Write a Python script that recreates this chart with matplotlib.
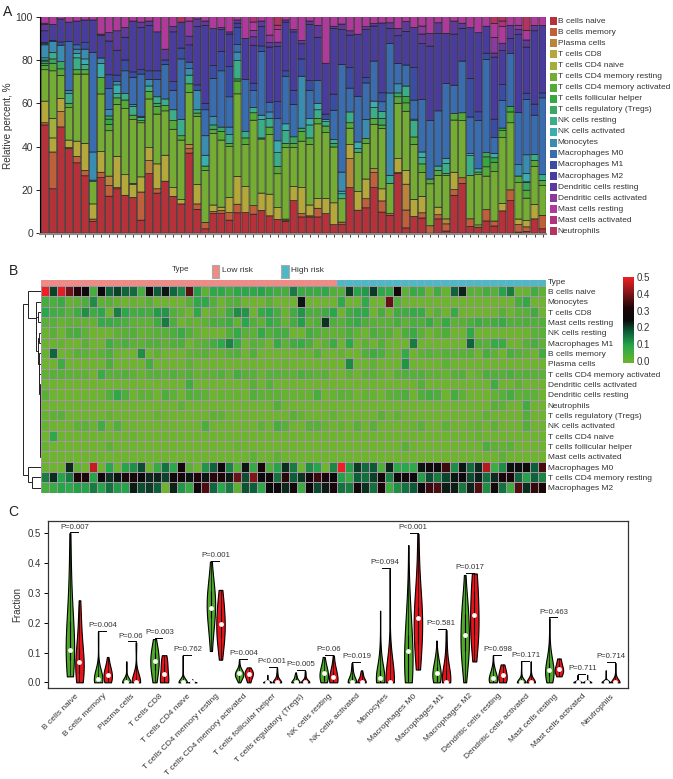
import numpy as np
import matplotlib
matplotlib.use('Agg')
import matplotlib.pyplot as plt
from matplotlib.colors import LinearSegmentedColormap, ListedColormap
from matplotlib.patches import Rectangle

plt.rcParams['font.family'] = ['Liberation Sans', 'DejaVu Sans']
plt.rcParams['text.color'] = '#333333'
plt.rcParams['axes.labelcolor'] = '#333333'
plt.rcParams['xtick.labelcolor'] = '#333333'
plt.rcParams['ytick.labelcolor'] = '#333333'

W, H = 673, 779

cell_names = ['B cells naive', 'B cells memory', 'Plasma cells', 'T cells CD8', 'T cells CD4 naive',
              'T cells CD4 memory resting', 'T cells CD4 memory activated', 'T cells follicular helper',
              'T cells regulatory (Tregs)', 'NK cells resting', 'NK cells activated', 'Monocytes',
              'Macrophages M0', 'Macrophages M1', 'Macrophages M2', 'Dendritic cells resting',
              'Dendritic cells activated', 'Mast cells resting', 'Mast cells activated', 'Neutrophils']

cell_colors = ['#b5323a', '#c0603a', '#b9853a', '#b5a83a', '#a0b03a', '#74ac34', '#55aa38', '#35a83f',
               '#3aa860', '#3aae88', '#3aaeae', '#3a8cb0', '#3a6cb0', '#3a4ca4', '#4a3c9c', '#5f3a9c',
               '#8a3a9c', '#b03a9c', '#b0337f', '#b53360']

# percent per sample, first 37 samples are low risk, last 26 high risk
b_naive = [50, 20.5, 48.5, 39, 32.5, 26.5, 5.5, 25.5, 17.5, 20.5,
           17.5, 16.5, 6, 27.5, 18.5, 24, 17, 13.5, 37, 11,
           2, 9, 9, 6, 9.5, 9.5, 9, 10.5, 8, 6.5,
           5.5, 15, 7.5, 7.5, 7.5, 9, 3.9, 3.9, 21, 10.5,
           11.7, 21, 9.4, 8.2, 27.5, 2.5, 7.7, 7, 0, 6.6,
           1, 17.4, 23, 3, 2.8, 5.9, 3.2, 10.5, 15, .5,
           .8, 6.6, 2]
b_memory = [1, 17, 0, .5, 3, 2.5, 1, 2.5, 5, .5,
            0, 0, 13, 0, 2, 0, 0, 0, 2, 2.5,
            3, 1, 1.5, 3.5, 4, 0, 4, 0, 0, 0,
            0, 0, 1.5, .5, 4, 0, 0, 1.2, 0, 0,
            4.2, 7, 5, .8, .5, 8.5, 0, 2.4, 3.4, 1.9,
            3.3, 2.6, 2.6, 3.5, 0, 5.4, 2.2, 0, 5, 3.5,
            2.2, 0, 6.2]
plasma = [0, 0, 7, 0, 0, 0, 0, 0, 4.5, 0,
          0, 0, 0, 6, 0, 0, 0, 0, 2, 0,
          0, 0, 0, 0, 0, 0, 0, 0, 0, 0,
          .5, 0, 0, 0, 0, 0, 0, 0, 13.4, 0,
          0, 1.8, 0, 0, 0, 12.3, 0, 0, 0, 0,
          2.3, 0, 0, 0, 0, 0, 0, 0, 0, 0,
          0, 0, 0]
cd8 = [10, 6.5, 6, 3.5, 7, 12.5, 7, 9.5, 0, 14.5,
       9.5, 6, 7, 6, 11.5, 12, 4, 2, 0, 9,
       0, 3, 1.5, 7, 13, 12, 0, 8, 10, 5.5,
       .5, 6.5, 12, 5, 4.5, 7, 10.1, 0, 6.5, 8.5,
       9.1, 0, 5.4, 0, 6.4, 6.5, 7.9, 7.6, 0, 3.5,
       0, 8, 0, 0, 0, 0, 0, 3.5, 0, 2.6,
       3, 6.7, 0]
cd4_naive = [0, 9, 0, 0, 0, 0, 0, 0, 0, 0,
             0, .5, 0, 0, 0, 0, 0, 0, 0, 0,
             0, 0, 0, 0, 0, 0, 0, 0, 0, 0,
             0, 0, 0, 0, 0, 0, 0, 0, 0, 0,
             0, 0, 0, 0, 0, 0, 0, 0, 0, 0,
             0, 0, 0, 0, 1, 0, 0, 0, 0, 0,
             0, 0, 0]
cd4_resting = [14.5, 22, 10.5, 15, 31, 32, 10.5, 26.5, 21.5, 24,
               30.5, 29.5, 25, 22.5, 23, 20.5, 27, 27.5, 24, 31.5,
               24, 33, 31, 23.5, 38.5, 19.5, 40.5, 25, 27.5, 16,
               33, 18, 21.5, 28, 34.5, 30.5, 25.8, 10.8, 7.6, 18,
               16.4, 20.5, 27, 14, 25.6, 28.2, 25.4, 11, 19.4, 14.7,
               20.1, 24, 26.4, 19.7, 23.2, 16.2, 22.1, 31, 31, 17,
               10.7, 17.6, 13.8]
cd4_activated = [2, 3.5, 3, 2, 2, 2, 0, 7.5, 3, 3,
                 4, 2, 1, 3.5, 3.5, 2.5, 4, 2, 4, 1.5,
                 2, 2, 4, 1.5, 6, 3, 3.5, .5, 3.5, 3.5,
                 2, 2, 4.5, 3, 2.5, 3, 0, 0, 2.5, 0,
                 2.3, 2.7, 1.5, 0, 3, 4, 3.4, 4, 2.2, 2.3,
                 1, 3, 3.6, 0, 1.2, 4.5, 4.1, 3.3, 5, 3.1,
                 3.8, 2.7, 2.4]
follicular = [1, 0, 0, 0, 0, 0, 0, 0, 2.5, 0,
              0, 0, 0, 0, 0, 0, 0, 0, 0, 0,
              0, 0, 0, 0, 1, 0, 0, 0, 0, 0,
              0, 0, 0, 0, 0, 0, 0, 0, 0, 0,
              0, 0, 0, 0, 0, 3, 0, 0, 0, 0,
              0, 0, 0, 0, 0, 4.8, 2, 1.2, 2.6, 0,
              0, 0, 0]
tregs = [1, 2, 3.3, 0, 0, 0, 0, 0, 1.5, 0,
         0, 0, 0, 0, 1.5, 0, 0, 0, 0, 0,
         0, 2, 2, 0, 0, 0, 0, 0, 0, 0,
         0, 3, 1.5, 0, 0, 0, 1.7, 0, 0, 0,
         0, 0, 3, 0, 1.8, 0, 0, 0, 0, 0,
         0, 0, 0, 0, 0, 2, 0, 0, 0, 0,
         3.8, 0, 0]
nk_resting = [.5, 3, 0, 4.5, 5.5, 2.5, 0, 0, 0, 2,
              3, 4, 1.5, 2.5, 3, 3, 5, 7.5, 4, 1.5,
              0, 0, 0, 4, 8.5, 3, 2.5, 8.5, 4, 6.5,
              6, 0, 0, 6, 4, 2, 1.7, 2.3, 5, 1.7,
              0, 5, 3.1, 3.7, 0, 5, 7.5, 2.9, 0, 2,
              4.6, 0, 0, 9, 0, 0, 0, 0, 0, 0,
              .2, 2.8, 2.6]
nk_activated = [1, 0, 0, 0, 2, 2.5, .5, 6.5, 0, 4,
                0, 0, 0, 0, 0, 0, 0, 0, 0, 0,
                5, 0, 0, 0, 0, 0, 0, 2, 0, 5.5,
                3, 0, 0, 3, 3, 1, 0, 1.2, 0, 3,
                0, 3, 0, 0, 0, 0, .7, 2.6, 0, 0,
                2.4, 0, 0, .9, 1.5, 0, 2, 0, 0, 0,
                4, 0, 0]
monocytes = [6, 5, 7.5, 1.5, 2, 4.5, 13, 2.5, 3, 1.5,
             0, 1, .5, 3, 0, 0, 0, 0, 3, 9,
             9, 4, 0, 3.5, 4, 0, 0, 0, 3, 0,
             0, 0, 24, 0, 0, 0, 0, 8.8, 0, 0,
             8.8, 0, 0, 38, 4.2, 0, 0, 0, 0, 0,
             0, 0, 0, 0, 0, 0, 0, 0, 0, 5.3,
             8.9, 0, 0]
m0 = [.5, 0, 0, 22.5, 2, 0, 46, 0, 10, 0,
      10.5, 12.5, 19.5, 0, 8, 16, 9, 28, 3, 0,
      12, 17.5, 26, 14, 3.5, 24, 8, 29.5, 4.5, 10.5,
      22, 15, 0, 13, 10.5, 0, 13.6, 49.8, 11, 20.9,
      16.9, 18.5, 4.3, 22.8, 9.4, 10, 8.8, 24.2, 27, 25.5,
      34.6, 13, 23.9, 16.6, 22.3, 45, 7, 13, 24.4, 24.5,
      26.4, 18.1, 35.5]
m1 = [.5, .5, 1.5, 0, 0, 3, 0, 0, 6.5, 3,
      5, 2.5, 2, 4, 4, 2, 4, 5, 0, 2.5,
      3, 6, 9, 14, 8, 0, 3.5, 2.5, 0, 8,
      2.5, 6.5, 8, 4.5, 0, 2.5, 7.4, 0, 9.5, 0,
      2.6, 0, 4, 0, 0, 0, 15, 0, 0, 0,
      0, 0, 0, 17.5, 4, 3, 8.2, 7.5, 0, 0,
      3, 5.1, 2.3]
m2 = [5.5, 7.5, 10.5, 9, 11, 10.5, 15, 10.5, 16, 11.5,
      10.5, 23.5, 19.5, 21, 18, 0, 23, 12, 8, 27,
      36, 17, 10, 15, 2, 19, 18, 9, 25.5, 26,
      22.5, 27, 7, 26, 20, 23.5, 30.4, 16, 15, 28.4,
      22, 16.2, 31.2, 7, 12.8, 16, 18.5, 25.9, 34.4, 35.8,
      23.3, 23.5, 15.1, 23, 36.5, 13, 27.7, 16, 7, 36.5,
      22, 33.9, 31.2]
dc_resting = [3, 0, 0, 0, 0, 0, 0, .5, 4, 9,
              4.5, 0, 2.5, 2, 0, 5, 2.5, 0, 4, 3.5,
              2, 0, 1, 1, 1.5, 0, 4, 2.5, 2, 2,
              1, 1, 1.5, 1.5, 5.5, 0, 1, 2.6, 2, 0,
              1.4, 1.2, 0, 2.6, 3.4, 4.7, 0, 4.4, 5.9, 4.9,
              0, 6, 2.4, 0, 0, 0, 1.8, 3.5, 6, 2.2,
              3.4, 2.5, 0]
dc_activated = [.5, 0, 0, 0, 0, 0, 0, 0, 0, 0,
                0, 0, 0, 0, 0, 0, 0, 0, 7, 0,
                0, 0, 0, 0, 0, 0, 3, 0, 3.5, 0,
                0, 0, 0, 0, 0, 0, 0, 0, 0, 0,
                0, 0, 0, 0, 0, 0, 0, 3.7, 0, 0,
                0, 0, 0, 0, 0, 0, 7, 0, 0, 2,
                0, 0, 0]
mast_resting = [3, 3.5, 1, 2.5, 2, 1.5, 1.5, 8, 7.5, 6.5,
                5, 2, 2.5, 2, 7, 15, 4.5, 0, 2, 1,
                2, 5.5, 5, 7, 1.5, 10, 4, 2, 8.5, 6,
                1.5, 6, 11, 2, 4, 21.5, 4.4, 3.4, 6.5, 8,
                4.6, 3.1, 2.8, 2.8, 5.4, 2.3, 5, 4.3, 7.7, 2.8,
                7.7, 2, 3, 5, 7.4, 4.6, 6.2, 8, 4, 4,
                4.6, 4, 4]
mast_activated = [0, 0, 0, 0, 0, 0, 0, 0, 0, 0,
                  0, 0, 0, 0, 0, 0, 0, 0, 0, 0,
                  0, 0, 0, 0, 0, 0, 2.5, 0, 0, 2,
                  0, 0, 0, 0, 0, 0, 0, 0, 0, 0,
                  0, 0, 0, 0, 0, 0, 0, 0, 0, 0,
                  0, 0, 0, 0, 0, 0, 0, 2.5, 0, 0,
                  0, 0, 0]
neutrophils = [0, 0, 0, 0, 0, 0, 0, 0, 0, 0,
               0, 0, 0, 0, 0, 0, 0, 2.5, 0, 0,
               0, 0, 0, 0, 0, 0, 0, 0, 0, 4,
               0, 0, 0, 0, 0, 0, 0, 0, 0, 0,
               0, 0, 0, 0, 0, 0, 0, 0, 0, 0,
               0, 0, 0, 0, 0, 0, 3, 2, 0, 0,
               6.5, 0, 0]

n_low = 37

p_labels = ['P=0.007', 'P=0.004', 'P=0.06', 'P=0.003', 'P=0.762', 'P=0.001', 'P=0.004', 'P<0.001',
            'P=0.005', 'P=0.06', 'P=0.019', 'P=0.094', 'P<0.001', 'P=0.581', 'P=0.017', 'P=0.698',
            'P=0.171', 'P=0.463', 'P=0.711', 'P=0.714']

heat_order = ['B cells naive', 'Monocytes', 'T cells CD8', 'Mast cells resting', 'NK cells resting',
              'Macrophages M1', 'B cells memory', 'Plasma cells', 'T cells CD4 memory activated',
              'Dendritic cells activated', 'Dendritic cells resting', 'Neutrophils',
              'T cells regulatory (Tregs)', 'NK cells activated', 'T cells CD4 naive',
              'T cells follicular helper', 'Mast cells activated', 'Macrophages M0',
              'T cells CD4 memory resting', 'Macrophages M2']

# row tree of panel B: (height, left, right), leaves are heat_order positions
tree_low = (1, 15, 16)
tree_low = (1.2, 14, tree_low)
tree_low = (1.5, 13, tree_low)
tree_low = (2, 12, tree_low)
tree_low = (2.5, 11, tree_low)
tree_low = (3, 10, tree_low)
tree_low = (3.5, 9, tree_low)
tree_low = (4, 8, tree_low)
tree_low = (5, 7, tree_low)
tree_low = (6, 6, tree_low)
tree_mid = (7, (4, 4, 5), tree_low)
tree_top = (37, 0, (15, 1, (14, (9, 2, 3), tree_mid)))
tree_bot = (37, 17, (27, 18, 19))
row_tree = (52, tree_top, tree_bot)

cells = np.array([b_naive, b_memory, plasma, cd8, cd4_naive, cd4_resting, cd4_activated, follicular,
                  tregs, nk_resting, nk_activated, monocytes, m0, m1, m2, dc_resting, dc_activated,
                  mast_resting, mast_activated, neutrophils], dtype=float)
percent = cells / cells.sum(axis=0) * 100
frac = cells / 100
n_samples = cells.shape[1]

fig = plt.figure(figsize=(W / 100, H / 100), dpi=100)


def ax_px(left, top, right, bottom):
    return fig.add_axes([left / W, 1 - bottom / H, (right - left) / W, (bottom - top) / H])


def text_px(x, y, s, **kw):
    kw.setdefault('va', 'center')
    fig.text(x / W, 1 - y / H, s, **kw)


def box_px(left, top, right, bottom, **kw):
    fig.add_artist(Rectangle((left / W, 1 - bottom / H), (right - left) / W, (bottom - top) / H,
                             transform=fig.transFigure, **kw))


text_px(3, 12, 'A', fontsize=10, color='#222222')
text_px(9, 271, 'B', fontsize=10, color='#222222')
text_px(8, 512, 'C', fontsize=10, color='#222222')

# panel A
ax = ax_px(40, 16.7, 546, 234)
x = np.arange(n_samples)
bottom = np.zeros(n_samples)
for i in range(len(cell_names)):
    keep = percent[i] > 0
    bars = ax.bar(x[keep], percent[i][keep], bottom=bottom[keep], width=0.9, color=cell_colors[i],
                  edgecolor='#1a1a1a', linewidth=0.45)
    for b in bars:
        b.set_snap(False)
    bottom += percent[i]
ax.set_xlim(-0.59, 62.43)
ax.set_ylim(-0.4, 100)
ax.set_yticks([0, 20, 40, 60, 80, 100])
ax.set_xticks(x)
ax.set_xticklabels([])
ax.tick_params(axis='x', length=2, width=0.6, color='#222222', pad=1)
ax.tick_params(axis='y', length=3, width=0.7, labelsize=7.5, pad=2, color='#222222')
ax.set_ylabel('Relative percent, %', fontsize=7.2, labelpad=2)
for side in ['top', 'right']:
    ax.spines[side].set_visible(False)
ax.spines['left'].set_linewidth(0.8)
ax.spines['bottom'].set_color('#8a8a8a')
ax.spines['bottom'].set_linewidth(1.5)

for i, name in enumerate(cell_names):
    yc = 21.3 + i * 11.05
    box_px(550, yc - 4, 557.3, yc + 4, facecolor=cell_colors[i], edgecolor='none')
    text_px(557.8, yc, name, fontsize=6.0)

# panel B
cmap = LinearSegmentedColormap.from_list('gbr', [(0, '#6cb52d'), (0.2, '#27a84a'), (0.36, '#0c6039'),
                                                 (0.5, '#0a0a0a'), (0.64, '#1c0508'), (0.8, '#7a1518'),
                                                 (1, '#ee2024')])
text_px(172, 270, 'Type', fontsize=5.8)
box_px(212, 264.5, 219, 277.5, facecolor='#f08a84', edgecolor='#aaaaaa', linewidth=0.8)
text_px(222, 271, 'Low risk', fontsize=6)
box_px(281, 264.5, 289, 277.5, facecolor='#4fb8c6', edgecolor='#aaaaaa', linewidth=0.8)
text_px(291, 271, 'High risk', fontsize=6)

grid_color = '#a596a5'
ax_type = ax_px(40.7, 280.5, 545.7, 285.5)
type_row = np.array([[0] * n_low + [1] * (n_samples - n_low)])
ax_type.pcolormesh(type_row, cmap=ListedColormap(['#f08a84', '#4fb8c6']), vmin=0, vmax=1)
ax_type.vlines(np.arange(n_samples + 1), 0, 1, color='#b3a8b0', lw=0.35)
ax_type.axis('off')
text_px(547.7, 282.3, 'Type', fontsize=6.0)

ax_heat = ax_px(40.7, 286, 545.7, 492.7)
rows = [cell_names.index(n) for n in heat_order]
ax_heat.pcolormesh(frac[rows], cmap=cmap, vmin=0, vmax=0.5)
ax_heat.vlines(np.arange(n_samples + 1), 0, len(rows), color=grid_color, lw=0.7)
ax_heat.hlines(np.arange(len(rows) + 1), 0, n_samples, color=grid_color, lw=0.7)
ax_heat.set_ylim(len(rows), 0)
ax_heat.axis('off')
for i, name in enumerate(heat_order):
    text_px(547.7, 292.3 + i * 10.35, name, fontsize=6.0)

ax_tree = ax_px(22, 286, 40.7, 492.7)
ax_tree.set_xlim(56, 0)
ax_tree.set_ylim(len(heat_order), 0)
ax_tree.axis('off')


def draw_tree(node):
    if not isinstance(node, tuple):
        return node + 0.5, 0
    h, left, right = node
    y1, h1 = draw_tree(left)
    y2, h2 = draw_tree(right)
    ax_tree.plot([h1, h, h, h2], [y1, y1, y2, y2], color='#222222', lw=0.7, solid_joinstyle='miter')
    return (y1 + y2) / 2, h


draw_tree(row_tree)

cax = ax_px(623.3, 277.3, 634.3, 362.7)
gradient = np.linspace(0, 0.5, 256).reshape(-1, 1)
cax.imshow(gradient, aspect='auto', origin='lower', cmap=cmap, vmin=0, vmax=0.5, extent=[0, 1, -0.012, 0.5])
cax.set_ylim(-0.012, 0.5)
cax.set_xticks([])
cax.yaxis.tick_right()
cax.set_yticks([0, 0.1, 0.2, 0.3, 0.4, 0.5])
cax.set_yticklabels(['0.0', '0.1', '0.2', '0.3', '0.4', '0.5'])
cax.tick_params(axis='y', length=0, labelsize=7, pad=1.5)
for s in cax.spines.values():
    s.set_visible(False)

# panel C
ax_v = ax_px(48.3, 520.7, 628.3, 688.3)
offset = 0.17
positions = np.arange(len(cell_names))
for risk, fill, sign in [(frac[:, :n_low], '#4fa82a', -1), (frac[:, n_low:], '#e8141c', 1)]:
    data = [risk[i] for i in range(len(cell_names))]
    parts = ax_v.violinplot(data, positions + sign * offset, widths=0.3, showextrema=False, points=200,
                            bw_method=0.8)
    for body in parts['bodies']:
        body.set_facecolor(fill)
        body.set_edgecolor('black')
        body.set_linewidth(0.8)
        body.set_alpha(1)
    q1, med, q3 = np.percentile(risk, [25, 50, 75], axis=1)
    ax_v.vlines(positions + sign * offset, risk.min(axis=1), risk.max(axis=1), color='black', lw=0.5)
    ax_v.vlines(positions + sign * offset, q1, q3, color='black', lw=0.8)
    ax_v.scatter(positions + sign * offset, med, s=12, color='white', zorder=5, linewidths=0)

for i, label in enumerate(p_labels):
    low_top = frac[i, :n_low].max()
    high_top = frac[i, n_low:].max()
    top = max(low_top, high_top) + 0.003
    if low_top >= high_top:
        ax_v.plot([i - offset, i + offset - 0.06], [top, top], color='black', lw=0.7)
    else:
        ax_v.plot([i - offset + 0.06, i + offset], [top, top], color='black', lw=0.7)
    ax_v.text(i, top + 0.006, label, ha='center', va='bottom', fontsize=5.6)

ax_v.set_xlim(-0.936, 19.63)
ax_v.set_ylim(-0.02, 0.542)
ax_v.set_yticks([0, 0.1, 0.2, 0.3, 0.4, 0.5])
ax_v.set_xticks(positions)
ax_v.set_xticklabels(cell_names, rotation=45, ha='right', rotation_mode='anchor', fontsize=6.0)
ax_v.tick_params(axis='x', length=0, pad=3)
ax_v.tick_params(axis='y', length=3, width=0.7, labelsize=6.9, pad=2)
ax_v.set_ylabel('Fraction', fontsize=7, labelpad=4)
for s in ax_v.spines.values():
    s.set_linewidth(0.9)
    s.set_color('#333333')

fig.savefig('out.png', dpi=100)
